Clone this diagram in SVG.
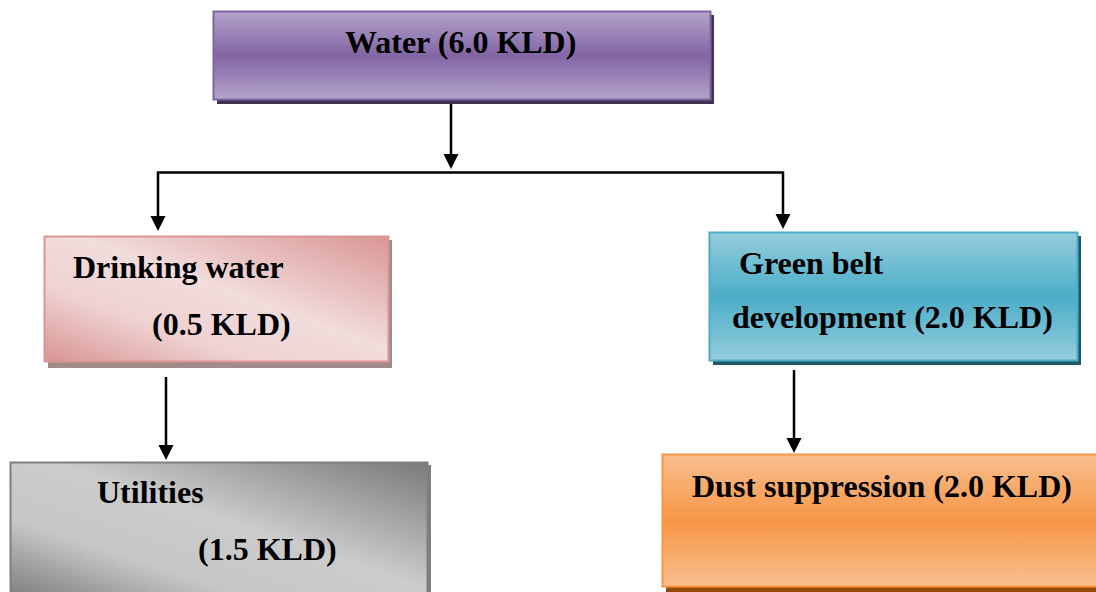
<svg xmlns="http://www.w3.org/2000/svg" width="1096" height="592" viewBox="0 0 1096 592">
<style>
  text{font-family:'Liberation Serif','Times New Roman',Tinos,'DejaVu Serif',serif;font-weight:700;font-size:32px;fill:#000}
  .c{stroke:#000;stroke-width:2.5;fill:none}
  .h{fill:#000}
</style>
<defs>
  <linearGradient id="gPurple" x1="0" y1="0" x2="0" y2="1">
    <stop offset="0" stop-color="#b3a4ca"/>
    <stop offset="0.5" stop-color="#8265a5"/>
    <stop offset="1" stop-color="#b3a4ca"/>
  </linearGradient>
  <linearGradient id="gPink" x1="0" y1="1" x2="1" y2="0">
    <stop offset="0" stop-color="#d89493"/>
    <stop offset="0.3" stop-color="#efd2d2"/>
    <stop offset="0.55" stop-color="#f2dcdc"/>
    <stop offset="1" stop-color="#d99695"/>
  </linearGradient>
  <linearGradient id="gBlue" x1="0" y1="0" x2="0" y2="1">
    <stop offset="0" stop-color="#95cedd"/>
    <stop offset="0.5" stop-color="#4badc7"/>
    <stop offset="1" stop-color="#95cedd"/>
  </linearGradient>
  <linearGradient id="gGray" x1="0" y1="1" x2="1" y2="0">
    <stop offset="0" stop-color="#7a7a7a"/>
    <stop offset="0.3" stop-color="#c6c6c6"/>
    <stop offset="0.55" stop-color="#cccccc"/>
    <stop offset="1" stop-color="#7a7a7a"/>
  </linearGradient>
  <linearGradient id="gOrange" x1="0" y1="0" x2="0" y2="1">
    <stop offset="0" stop-color="#f9bf8f"/>
    <stop offset="0.5" stop-color="#f79646"/>
    <stop offset="1" stop-color="#f9bf8f"/>
  </linearGradient>
  <path id="ah" d="M-7.5,-15 L7.5,-15 L0,0 Z"/>
</defs>

<g id="connectors">
  <line class="c" x1="451" y1="86" x2="451" y2="156"/>
  <use href="#ah" class="h" x="451" y="169"/>
  <polyline class="c" points="158,218 158,172.5 783,172.5 783,216"/>
  <use href="#ah" class="h" x="158" y="231"/>
  <use href="#ah" class="h" x="783" y="229"/>
  <line class="c" x1="166" y1="377" x2="166" y2="447"/>
  <use href="#ah" class="h" x="166" y="460"/>
  <line class="c" x1="794" y1="370" x2="794" y2="440"/>
  <use href="#ah" class="h" x="794" y="453"/>
</g>

<g id="node-water">
  <rect x="217" y="15" width="497" height="89" fill="#3f3151"/>
  <rect x="213.5" y="11.5" width="497" height="88" fill="url(#gPurple)" stroke="#8064a2" stroke-width="2"/>
  <text x="345" y="53">Water (6.0 KLD)</text>
</g>

<g id="node-drinking">
  <rect x="48" y="240" width="344" height="128" fill="#a08a8a"/>
  <rect x="44.5" y="236.5" width="344" height="125" fill="url(#gPink)" stroke="#d99694" stroke-width="2"/>
  <text x="73" y="278">Drinking water</text>
  <text x="152" y="335">(0.5 KLD)</text>
</g>

<g id="node-greenbelt">
  <rect x="713" y="236" width="368" height="129" fill="#215867"/>
  <rect x="709.5" y="232.5" width="368" height="128" fill="url(#gBlue)" stroke="#4bacc6" stroke-width="2"/>
  <text x="739" y="274">Green belt</text>
  <text x="732" y="328">development (2.0 KLD)</text>
</g>

<g id="node-utilities">
  <rect x="13" y="465" width="418" height="135" fill="#7f7f7f"/>
  <rect x="10.5" y="462.5" width="417" height="140" fill="url(#gGray)" stroke="#7f7f7f" stroke-width="2"/>
  <text x="97" y="503">Utilities</text>
  <text x="198" y="560">(1.5 KLD)</text>
</g>

<g id="node-dust">
  <rect x="666" y="458" width="440" height="134" fill="#984806"/>
  <rect x="662.5" y="454.5" width="440" height="132" fill="url(#gOrange)" stroke="#f79646" stroke-width="2"/>
  <text x="692" y="497">Dust suppression (2.0 KLD)</text>
</g>
</svg>
